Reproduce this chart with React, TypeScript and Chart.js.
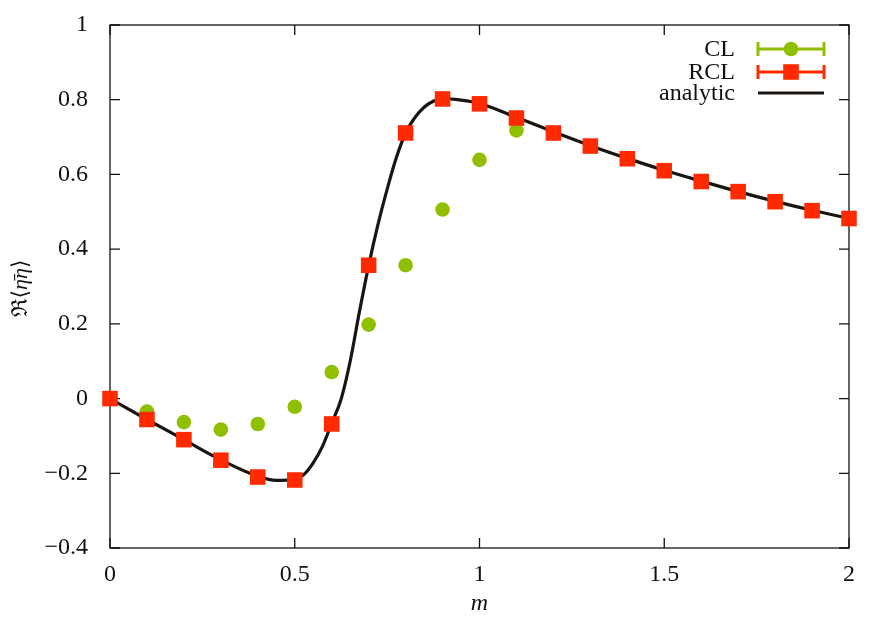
import React, { useEffect, useRef } from 'react';
import { Chart, registerables } from 'chart.js';

Chart.register(...registerables);

const mValues = [0, 0.1, 0.2, 0.3, 0.4, 0.5, 0.6, 0.7, 0.8, 0.9, 1.0, 1.1, 1.2, 1.3, 1.4, 1.5, 1.6, 1.7, 1.8, 1.9, 2.0];
const clValues = [0, -0.035, -0.063, -0.083, -0.068, -0.022, 0.071, 0.198, 0.357, 0.506, 0.639, 0.718, 0.709, 0.676, 0.642, 0.61, 0.581, 0.554, 0.527, 0.503, 0.482];
const rclValues = [0, -0.056, -0.11, -0.165, -0.21, -0.218, -0.068, 0.357, 0.711, 0.802, 0.789, 0.751, 0.711, 0.676, 0.642, 0.61, 0.581, 0.554, 0.527, 0.503, 0.482];

const analyticM = [0, 0.1, 0.2, 0.3, 0.4, 0.45, 0.5, 0.525, 0.55, 0.575, 0.6, 0.625, 0.65, 0.675, 0.7, 0.725, 0.75, 0.775, 0.8, 0.825, 0.85, 0.875, 0.9, 0.95, 1.0, 1.1, 1.2, 1.3, 1.4, 1.5, 1.6, 1.7, 1.8, 1.9, 2.0];
const analyticValues = [0, -0.056, -0.11, -0.164, -0.208, -0.219, -0.217, -0.203, -0.172, -0.128, -0.066, -0.003, 0.1, 0.232, 0.356, 0.465, 0.56, 0.645, 0.711, 0.752, 0.78, 0.796, 0.803, 0.799, 0.79, 0.753, 0.714, 0.677, 0.643, 0.611, 0.582, 0.554, 0.528, 0.504, 0.482];

const xTicks = [0, 0.5, 1, 1.5, 2];
const yTicks = [-0.4, -0.2, 0, 0.2, 0.4, 0.6, 0.8, 1];
const legendLabels = ['CL', 'RCL', 'analytic'];
const xTitle = 'm';
const yTitleParts: [string, boolean][] = [['\u211C', false], ['\u27E8', false], ['\u03B7\u0304', true], ['\u03B7', true], ['\u27E9', false]];

const GREEN = '#8fbf00';
const RED = '#ff2a00';
const BLACK = '#1a1511';
const FONT = '"Liberation Serif", "DejaVu Serif", serif';

const fmt = (v: number) => {
  const s = String(Number(v.toFixed(2)));
  return s.replace('-', '\u2212');
};

const framePlugin = {
  id: 'frameTicks',
  beforeDatasetsDraw(chart: any) {
    const { ctx, chartArea: a, scales } = chart;
    const xs = scales.x;
    const ys = scales.y;
    const tl = 10;
    ctx.save();
    ctx.strokeStyle = '#111';
    ctx.lineWidth = 1.3;
    ctx.strokeRect(a.left, a.top, a.right - a.left, a.bottom - a.top);
    ctx.beginPath();
    xTicks.forEach((t) => {
      const px = xs.getPixelForValue(t);
      ctx.moveTo(px, a.bottom);
      ctx.lineTo(px, a.bottom - tl);
      ctx.moveTo(px, a.top);
      ctx.lineTo(px, a.top + tl);
    });
    yTicks.forEach((t) => {
      const py = ys.getPixelForValue(t);
      ctx.moveTo(a.left, py);
      ctx.lineTo(a.left + tl, py);
      ctx.moveTo(a.right, py);
      ctx.lineTo(a.right - tl, py);
    });
    ctx.stroke();

    // y title, mixed upright / italic
    const yc = (a.top + a.bottom) / 2 + 2;
    ctx.translate(21, yc);
    ctx.rotate(-Math.PI / 2);
    ctx.fillStyle = '#111';
    ctx.textBaseline = 'middle';
    ctx.textAlign = 'left';
    const fontFor = (it: boolean) => `${it ? 'italic ' : ''}22px ${FONT}`;
    let total = 0;
    const widths = yTitleParts.map(([t, it]) => {
      ctx.font = fontFor(it);
      const w = ctx.measureText(t).width;
      total += w;
      return w;
    });
    let x = -total / 2;
    yTitleParts.forEach(([t, it], i) => {
      ctx.font = fontFor(it);
      ctx.fillText(t, x, 0);
      x += widths[i];
    });
    ctx.restore();
  },
  afterDraw(chart: any) {
    const { ctx } = chart;
    const textRight = 735;
    const x0 = 758;
    const x1 = 824;
    const xc = (x0 + x1) / 2;
    const rows = [49, 72, 93];
    ctx.save();
    ctx.font = `24px ${FONT}`;
    ctx.fillStyle = '#111';
    ctx.textAlign = 'right';
    ctx.textBaseline = 'middle';
    legendLabels.forEach((lab, i) => {
      ctx.fillText(lab, textRight, rows[i] + 1);
    });
    const drawBar = (y: number, color: string) => {
      ctx.strokeStyle = color;
      ctx.lineWidth = 3;
      ctx.beginPath();
      ctx.moveTo(x0, y);
      ctx.lineTo(x1, y);
      ctx.moveTo(x0, y - 7);
      ctx.lineTo(x0, y + 7);
      ctx.moveTo(x1, y - 7);
      ctx.lineTo(x1, y + 7);
      ctx.stroke();
    };
    drawBar(rows[0], GREEN);
    ctx.fillStyle = GREEN;
    ctx.beginPath();
    ctx.arc(xc, rows[0], 7.3, 0, Math.PI * 2);
    ctx.fill();
    drawBar(rows[1], RED);
    ctx.fillStyle = RED;
    ctx.fillRect(xc - 7.8, rows[1] - 7.8, 15.6, 15.6);
    ctx.strokeStyle = BLACK;
    ctx.lineWidth = 3.2;
    ctx.beginPath();
    ctx.moveTo(x0, rows[2]);
    ctx.lineTo(x1, rows[2]);
    ctx.stroke();
    ctx.restore();
  },
};

export default function App() {
  const ref = useRef<HTMLCanvasElement>(null);
  useEffect(() => {
    if (!ref.current) return;
    const chart = new Chart(ref.current, {
      type: 'scatter',
      data: {
        datasets: [
          {
            label: 'CL',
            data: mValues.map((m, i) => ({ x: m, y: clValues[i] })),
            backgroundColor: GREEN,
            borderColor: GREEN,
            borderWidth: 0,
            pointStyle: 'circle',
            pointRadius: 7.3,
            showLine: false,
            clip: false as any,
            order: 1,
          },
          {
            label: 'RCL',
            data: mValues.map((m, i) => ({ x: m, y: rclValues[i] })),
            backgroundColor: RED,
            borderColor: RED,
            borderWidth: 0,
            pointStyle: 'rect',
            pointRadius: 11,
            showLine: false,
            clip: false as any,
            order: 0,
          },
          {
            label: 'analytic',
            data: analyticM.map((m, i) => ({ x: m, y: analyticValues[i] })),
            borderColor: BLACK,
            backgroundColor: BLACK,
            borderWidth: 3.2,
            pointRadius: 0,
            showLine: true,
            cubicInterpolationMode: 'monotone',
            fill: false,
            order: 2,
          },
        ],
      },
      options: {
        animation: false,
        responsive: true,
        maintainAspectRatio: false,
        layout: { padding: { left: 0, right: 40, top: 25, bottom: 0 } },
        plugins: {
          legend: { display: false },
          tooltip: { enabled: false },
        },
        scales: {
          x: {
            type: 'linear',
            min: 0,
            max: 2,
            grid: { display: false, drawTicks: false },
            border: { display: false },
            afterFit: (s: any) => {
              s.height = 71;
              s.paddingLeft = 0;
              s.paddingRight = 0;
            },
            afterBuildTicks: (s: any) => {
              s.ticks = xTicks.map((v) => ({ value: v }));
            },
            ticks: {
              padding: 12,
              color: '#111',
              font: { family: FONT, size: 24 },
              maxRotation: 0,
              callback: (v: any) => fmt(Number(v)),
            },
            title: {
              display: true,
              text: xTitle,
              color: '#111',
              font: { family: FONT, size: 24, style: 'italic' },
              padding: { top: 0, bottom: 1 },
            },
          },
          y: {
            type: 'linear',
            min: -0.4,
            max: 1,
            grid: { display: false, drawTicks: false },
            border: { display: false },
            afterFit: (s: any) => {
              s.width = 110;
              s.paddingTop = 0;
              s.paddingBottom = 0;
            },
            afterBuildTicks: (s: any) => {
              s.ticks = yTicks.map((v) => ({ value: v }));
            },
            ticks: {
              padding: 22,
              color: '#111',
              font: { family: FONT, size: 24 },
              callback: (v: any) => fmt(Number(v)),
            },
            title: { display: false },
          },
        },
      },
      plugins: [framePlugin],
    });
    return () => chart.destroy();
  }, []);
  return (
    <div style={{ position: 'fixed', left: 0, top: 0, width: 889, height: 619, background: '#fff' }}>
      <canvas ref={ref} />
    </div>
  );
}
